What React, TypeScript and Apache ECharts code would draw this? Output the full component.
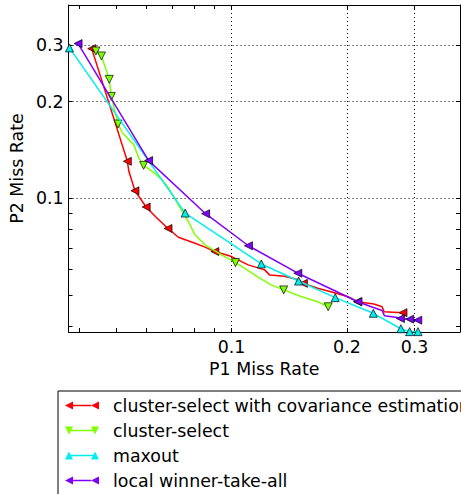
import React, { useEffect, useRef } from 'react';
import * as echarts from 'echarts';

// ---- data ----
const seriesNames = [
  'cluster-select with covariance estimation',
  'cluster-select',
  'maxout',
  'local winner-take-all',
];
const seriesColors = ['#ff0000', '#80ff00', '#00eeee', '#8000ff'];

// cluster-select with covariance estimation
const redP1 = [0.0432, 0.0535, 0.054, 0.056, 0.0599, 0.0633, 0.0683, 0.0727, 0.0803, 0.0853, 0.0905, 0.1, 0.1105, 0.122, 0.1257, 0.1374, 0.1503, 0.154, 0.1678, 0.1816, 0.2005, 0.213, 0.235, 0.247, 0.25, 0.28];
const redP2 = [0.2925, 0.1303, 0.1213, 0.1055, 0.0939, 0.0877, 0.0805, 0.0756, 0.0724, 0.0704, 0.0682, 0.0658, 0.062, 0.0598, 0.0577, 0.0571, 0.0556, 0.0543, 0.0524, 0.0511, 0.0494, 0.0476, 0.0468, 0.0459, 0.0443, 0.044];
const redMarks = [0, 1, 3, 4, 6, 10, 17, 21, 25];

// cluster-select
const greenP1 = [0.0443, 0.0458, 0.048, 0.0486, 0.0506, 0.0519, 0.0556, 0.0573, 0.059, 0.0621, 0.0659, 0.0685, 0.0706, 0.0735, 0.0772, 0.0803, 0.0853, 0.0942, 0.1024, 0.1083, 0.1173, 0.1269, 0.1368, 0.1518, 0.1678, 0.1787];
const greenP2 = [0.2875, 0.2775, 0.2346, 0.2076, 0.1703, 0.16, 0.1469, 0.1335, 0.1266, 0.1213, 0.1142, 0.1076, 0.1013, 0.0932, 0.0846, 0.0769, 0.0716, 0.0666, 0.063, 0.0605, 0.0568, 0.0537, 0.0518, 0.0494, 0.0476, 0.0459];
const greenMarks = [0, 1, 2, 3, 4, 8, 18, 22, 25];

// maxout
const cyanP1 = [0.0378, 0.0757, 0.1196, 0.1496, 0.1864, 0.2343, 0.2765, 0.2914, 0.3064];
const cyanP2 = [0.294, 0.0899, 0.0624, 0.0552, 0.049, 0.0438, 0.0392, 0.0384, 0.0384];
const cyanMarks = [0, 1, 2, 3, 4, 5, 6, 7, 8];

// local winner-take-all
const purpleP1 = [0.0398, 0.0608, 0.0856, 0.1107, 0.1489, 0.2137, 0.2305, 0.247, 0.2506, 0.2703, 0.2757, 0.2914, 0.306];
const purpleP2 = [0.3032, 0.131, 0.0895, 0.0711, 0.0584, 0.0476, 0.046, 0.0447, 0.043, 0.0425, 0.0422, 0.042, 0.0417];
const purpleMarks = [0, 1, 2, 3, 4, 5, 10, 11, 12];

// axes
const X_MIN = 0.03759;
const X_MAX = 0.3943;
const Y_MIN = 0.0383;
const Y_MAX = 0.4;
const xTickValues = [0.04, 0.05, 0.06, 0.07, 0.08, 0.09, 0.1, 0.2, 0.3];
const yTickValues = [0.04, 0.05, 0.06, 0.07, 0.08, 0.09, 0.1, 0.2, 0.3];
const xLabelValues = [0.1, 0.2, 0.3];
const xLabels = ['0.1', '0.2', '0.3'];
const yLabelValues = [0.1, 0.2, 0.3];
const yLabels = ['0.1', '0.2', '0.3'];

const FONT = 'DejaVu Sans';
const FS = 17.4;

const SYM_LEFT = 'path://M0,5L10,0L10,10Z';
const SYM_DOWN = 'path://M0,0L10,0L5,10Z';
const SYM_UP = 'path://M5,0L10,10L0,10Z';

const ICON_LEFT = 'path://M0,4L8,0L8,8ZM8,3.3L26,3.3L26,4.7L8,4.7ZM26,4L34,0L34,8Z';
const ICON_DOWN = 'path://M0,0L8,0L4,8ZM4,3.3L30,3.3L30,4.7L4,4.7ZM26,0L34,0L30,8Z';
const ICON_UP = 'path://M4,0L8,8L0,8ZM4,3.3L30,3.3L30,4.7L4,4.7ZM30,0L34,8L26,8Z';

function lookupLabel(values: number[], labels: string[], v: number): string {
  const i = values.findIndex((t) => Math.abs(t - v) < 1e-6);
  return i >= 0 ? labels[i] : '';
}

function buildSeries(
  name: string,
  color: string,
  xs: number[],
  ys: number[],
  marks: number[],
  symbol: string,
  z: number
) {
  return {
    type: 'line',
    name,
    z,
    data: xs.map((x, i) => ({
      value: [x, ys[i]],
      symbol: marks.includes(i) ? symbol : 'none',
    })),
    symbol,
    symbolSize: 8,
    showSymbol: true,
    showAllSymbol: true,
    clip: true,
    lineStyle: { color, width: 1.5 },
    itemStyle: { color, borderColor: '#000', borderWidth: 0.7 },
    emphasis: { disabled: true },
  };
}

function logAxis(min: number, max: number, extra: any) {
  return {
    type: 'log',
    logBase: 10,
    min,
    max,
    minorTick: { show: false },
    minorSplitLine: { show: false },
    ...extra,
  };
}

export default function App() {
  const ref = useRef<HTMLDivElement>(null);

  useEffect(() => {
    document.body.style.margin = '0';
    if (!ref.current) return;
    const chart = echarts.init(ref.current, null, { renderer: 'svg' });

    const tickStyle = { show: true, inside: true, length: 4, lineStyle: { color: '#000', width: 1 } };
    const lineAxis = { show: true, onZero: false, lineStyle: { color: '#000', width: 1 } };
    const gridLine = { show: true, lineStyle: { color: '#000', width: 1, type: [1, 3] } };

    const option: any = {
      animation: false,
      backgroundColor: '#fff',
      textStyle: { fontFamily: FONT },
      grid: { left: 66, right: 1, top: 5, bottom: 162, containLabel: false },
      xAxis: [
        logAxis(X_MIN, X_MAX, {
          position: 'bottom',
          axisLine: lineAxis,
          axisTick: { ...tickStyle, customValues: xTickValues },
          axisLabel: {
            show: true,
            customValues: xLabelValues,
            formatter: (v: number) => lookupLabel(xLabelValues, xLabels, v),
            color: '#000',
            fontSize: FS,
            fontFamily: FONT,
            margin: 6,
          },
          splitLine: { show: false },
          name: 'P1 Miss Rate',
          nameLocation: 'middle',
          nameGap: 28,
          nameTextStyle: { color: '#000', fontSize: FS, fontFamily: FONT },
        }),
        logAxis(X_MIN, X_MAX, {
          position: 'top',
          axisLine: lineAxis,
          axisTick: { ...tickStyle, customValues: xTickValues },
          axisLabel: { show: false },
          splitLine: { show: false },
        }),
        logAxis(X_MIN, X_MAX, {
          position: 'bottom',
          axisLine: { show: false, onZero: false },
          axisTick: { show: false, customValues: xLabelValues },
          axisLabel: { show: false },
          splitLine: gridLine,
        }),
      ],
      yAxis: [
        logAxis(Y_MIN, Y_MAX, {
          position: 'left',
          axisLine: lineAxis,
          axisTick: { ...tickStyle, customValues: yTickValues },
          axisLabel: {
            show: true,
            customValues: yLabelValues,
            formatter: (v: number) => lookupLabel(yLabelValues, yLabels, v),
            color: '#000',
            fontSize: FS,
            fontFamily: FONT,
            margin: 5,
          },
          splitLine: { show: false },
          name: 'P2 Miss Rate',
          nameLocation: 'middle',
          nameGap: 38,
          nameTextStyle: { color: '#000', fontSize: FS, fontFamily: FONT },
        }),
        logAxis(Y_MIN, Y_MAX, {
          position: 'right',
          axisLine: lineAxis,
          axisTick: { ...tickStyle, customValues: yTickValues },
          axisLabel: { show: false },
          splitLine: { show: false },
        }),
        logAxis(Y_MIN, Y_MAX, {
          position: 'left',
          axisLine: { show: false, onZero: false },
          axisTick: { show: false, customValues: yLabelValues },
          axisLabel: { show: false },
          splitLine: gridLine,
        }),
      ],
      legend: {
        orient: 'vertical',
        left: 58,
        top: 391,
        height: 110,
        padding: [6, 10, 6, 7],
        itemGap: 8,
        itemWidth: 34,
        itemHeight: 8,
        borderColor: '#000',
        borderWidth: 1,
        borderRadius: 0,
        backgroundColor: '#fff',
        selectedMode: false,
        itemStyle: { borderWidth: 0 },
        textStyle: { color: '#000', fontSize: FS, fontFamily: FONT, lineHeight: 17, padding: [0, 0, 0, 9] },
        data: [
          { name: seriesNames[0], icon: ICON_LEFT },
          { name: seriesNames[1], icon: ICON_DOWN },
          { name: seriesNames[2], icon: ICON_UP },
          { name: seriesNames[3], icon: ICON_LEFT },
        ],
      },
      series: [
        buildSeries(seriesNames[0], seriesColors[0], redP1, redP2, redMarks, SYM_LEFT, 2),
        buildSeries(seriesNames[1], seriesColors[1], greenP1, greenP2, greenMarks, SYM_DOWN, 3),
        buildSeries(seriesNames[2], seriesColors[2], cyanP1, cyanP2, cyanMarks, SYM_UP, 4),
        buildSeries(seriesNames[3], seriesColors[3], purpleP1, purpleP2, purpleMarks, SYM_LEFT, 5),
      ],
    };

    chart.setOption(option);
    return () => chart.dispose();
  }, []);

  return <div ref={ref} style={{ width: 461, height: 494 }} />;
}
